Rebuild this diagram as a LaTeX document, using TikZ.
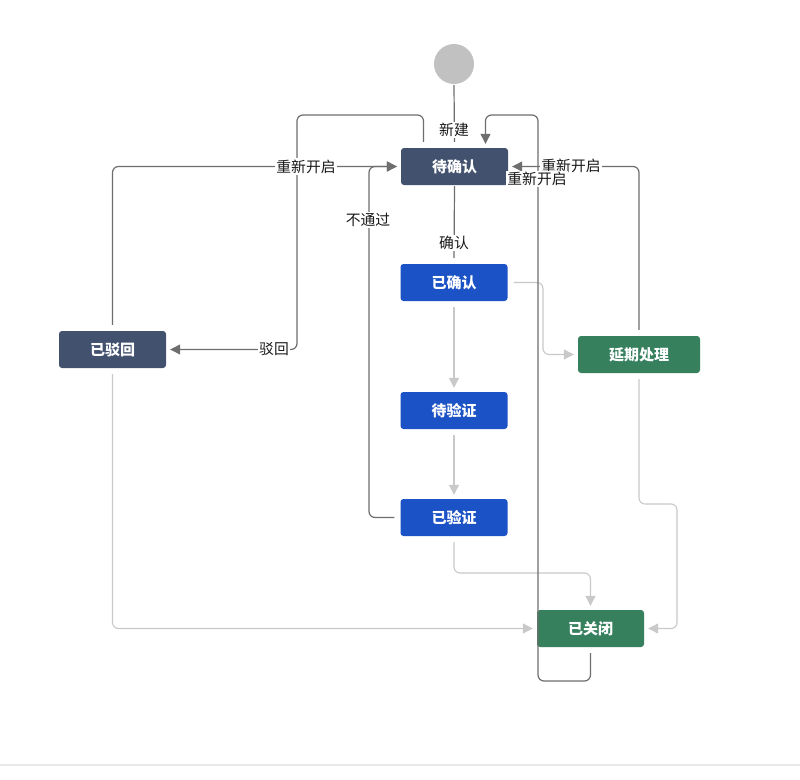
\documentclass[tikz,border=0pt]{standalone}
\usepackage{fontspec}
\setmainfont{Noto Sans CJK SC}
\usetikzlibrary{arrows.meta}
\definecolor{slate}{HTML}{42526E}
\definecolor{blu}{HTML}{1B52C5}
\definecolor{grn}{HTML}{36805E}
\definecolor{dkl}{HTML}{6E6E6E}
\definecolor{ltl}{HTML}{C9C9C9}
\definecolor{startc}{HTML}{C1C1C1}
\tikzset{
  box/.style={rectangle, rounded corners=3pt, minimum width=107pt, minimum height=37pt, inner sep=0pt, text=white, font=\fontsize{15}{17}\selectfont\bfseries},
  slatebox/.style={box, fill=slate},
  bluebox/.style={box, fill=blu},
  greenbox/.style={box, fill=grn},
  lbl/.style={fill=white, inner sep=1.5pt, text=black!90, font=\fontsize{14.8}{16}\selectfont},
  dk/.style={draw=dkl, line width=1.2pt, rounded corners=6pt, shorten <=6pt, shorten >=4pt, -{Triangle[length=10pt,width=10pt]}},
  dkplain/.style={draw=dkl, line width=1.2pt, shorten <=1pt, shorten >=6pt},
  lt/.style={draw=ltl, line width=1.1pt, rounded corners=6pt, shorten <=6pt, shorten >=4pt, -{Triangle[length=10pt,width=10pt]}}
}
\begin{document}
\begin{tikzpicture}[x=1pt,y=-1pt]
\useasboundingbox (0,0) rectangle (800,779);
\fill[white] (0,0) rectangle (800,779);
\draw[color=black!9, line width=2pt] (0,765) -- (800,765);

% nodes
\node[circle, fill=startc, minimum size=40pt, inner sep=0pt] (start) at (454,64) {};
\node[slatebox] (dqr) at (454.5,166.5) {待确认};
\node[bluebox] (yqr) at (454,282.5) {已确认};
\node[bluebox] (dyz) at (454,410.5) {待验证};
\node[bluebox] (yyz) at (454,517.5) {已验证};
\node[slatebox] (ybh) at (112.5,349.5) {已驳回};
\node[greenbox, minimum width=122pt] (yq) at (639,354.5) {延期处理};
\node[greenbox] (ygb) at (590.5,628.5) {已关闭};

% light connectors
\draw[lt] (yqr.east) -| (543,354.5) -- (yq.west);
\draw[lt] (yqr.south) -- (dyz.north);
\draw[lt] (dyz.south) -- (yyz.north);
\draw[lt] (yyz.south) |- (590.5,573) -- (ygb.north);
\draw[lt] (ybh.south) |- (ygb.west);
\draw[lt] (yq.south) |- (677,504) |- (ygb.east);

% dark connectors
\draw[dkplain] (start.south) -- (dqr.north);
\node[lbl] (lxj) at (454,130) {新建};
\draw[dkplain] (dqr.south) -- (yqr.north);
\node[lbl] (lqr) at (454,243) {确认};

\draw[dk] ([xshift=-31pt]dqr.north) |- (297,115) |- (ybh.east);
\node[lbl] (lbh) at (274,349.5) {驳回};

\draw[dk] (ybh.north) |- (dqr.west);
\node[lbl] (lck1) at (306,166.5) {重新开启};

\draw[dk] (yyz.west) -| (369,166.5) -- (dqr.west);
\node[lbl] (lbtg) at (368,220) {不通过};

\draw[dk] (yq.north) |- (dqr.east);
\node[lbl] (lck2) at (571,166) {重新开启};

\draw[dk] (ygb.south) |- (538,681) |- (485.5,115) -- ([xshift=31pt]dqr.north);
\node[lbl] (lck3) at (537,179) {重新开启};
\end{tikzpicture}
\end{document}
